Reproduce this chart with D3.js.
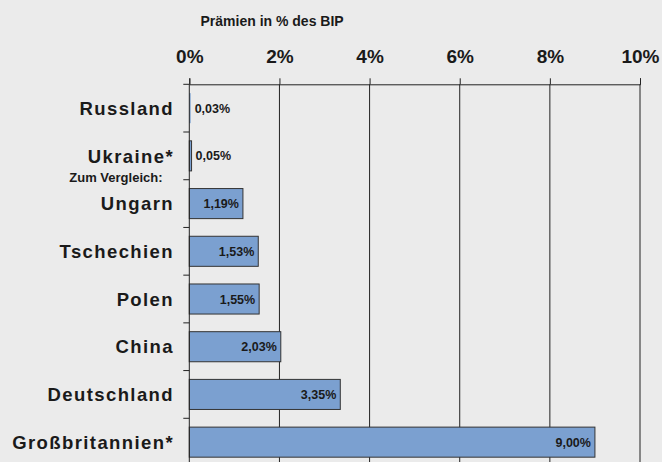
<!DOCTYPE html>
<html lang="de">
<head>
<meta charset="UTF-8">
<title>Prämien in % des BIP</title>
<script src="https://d3js.org/d3.v7.min.js"></script>
<style>
  body { margin: 0; padding: 0; background: #ebebeb; }
  svg { display: block; font-family: 'Liberation Sans', Arial, sans-serif; }
</style>
</head>
<body>
<svg id="chart" width="662" height="462"></svg>
<script>
  // Daten
  const laender = ["Russland", "Ukraine*", "Ungarn", "Tschechien", "Polen", "China", "Deutschland", "Großbritannien*"];
  const praemien = [0.03, 0.05, 1.19, 1.53, 1.55, 2.03, 3.35, 9.00];
  const wertLabels = ["0,03%", "0,05%", "1,19%", "1,53%", "1,55%", "2,03%", "3,35%", "9,00%"];
  const achsenTicks = [0, 2, 4, 6, 8, 10];

  const svg = d3.select("#chart");
  const W = 662, H = 462;

  svg.append("rect").attr("width", W).attr("height", H).attr("fill", "#ebebeb");

  const x = d3.scaleLinear().domain([0, 10]).range([189.3, 640]);
  const y = d3.scaleBand().domain(laender).range([84.3, 466])
    .paddingInner(0.37).paddingOuter(0.185);

  // Titel
  svg.append("text")
    .attr("x", 200.5).attr("y", 26)
    .attr("font-size", "14px").attr("font-weight", "bold")
    .attr("fill", "#1a1a1a")
    .text("Prämien in % des BIP");

  // Gitterlinien
  svg.append("g")
    .selectAll("line")
    .data(achsenTicks.slice(1))
    .join("line")
    .attr("x1", d => x(d)).attr("x2", d => x(d))
    .attr("y1", 84.3).attr("y2", 466)
    .attr("stroke", "#222").attr("stroke-width", 1);

  // Balken (sehr schmale Balken ohne Rand, sonst nur ein dunkler Strich)
  svg.append("g")
    .selectAll("rect")
    .data(praemien)
    .join("rect")
    .attr("x", x(0))
    .attr("y", (d, i) => y(laender[i]))
    .attr("width", d => x(d) - x(0))
    .attr("height", y.bandwidth())
    .attr("fill", "#7ba0d0")
    .attr("stroke", d => x(d) - x(0) < 2 ? "none" : "#333")
    .attr("stroke-width", 1);

  // Werte
  svg.append("g")
    .selectAll("text")
    .data(praemien)
    .join("text")
    .attr("x", d => d < 1 ? x(d) + 4 : x(d) - 4)
    .attr("y", (d, i) => y(laender[i]) + y.bandwidth() / 2)
    .attr("dy", "0.36em")
    .attr("text-anchor", d => d < 1 ? "start" : "end")
    .attr("font-size", "12.5px").attr("font-weight", "bold")
    .attr("fill", "#1a1a1a")
    .text((d, i) => wertLabels[i]);

  // obere Achse
  const achseOben = svg.append("g")
    .attr("transform", `translate(0,84.3)`)
    .call(d3.axisTop(x).tickValues(achsenTicks).tickFormat(d => d + "%")
      .tickSize(6).tickSizeOuter(6).tickPadding(15.6));
  achseOben.selectAll("path, line").attr("stroke", "#222");
  achseOben.selectAll("text")
    .attr("font-size", "19px").attr("font-weight", "bold")
    .attr("font-family", "'Liberation Sans', Arial, sans-serif")
    .attr("fill", "#1a1a1a");

  // linke Achse
  const achseLinks = svg.append("g");
  achseLinks.append("line")
    .attr("x1", x(0)).attr("x2", x(0))
    .attr("y1", 84.3).attr("y2", 466)
    .attr("stroke", "#222");
  achseLinks.selectAll("line.tick")
    .data(laender)
    .join("line")
    .attr("class", "tick")
    .attr("x1", x(0) - 6).attr("x2", x(0))
    .attr("y1", d => y(d) - y.step() * y.paddingInner() / 2)
    .attr("y2", d => y(d) - y.step() * y.paddingInner() / 2)
    .attr("stroke", "#222");

  // Kategorien
  svg.append("g")
    .selectAll("text")
    .data(laender)
    .join("text")
    .attr("x", 174)
    .attr("y", d => y(d) + y.bandwidth() / 2)
    .attr("dy", "0.36em")
    .attr("text-anchor", "end")
    .attr("font-size", "18.5px").attr("font-weight", "bold")
    .attr("letter-spacing", "1.4px")
    .attr("fill", "#1a1a1a")
    .text(d => d);

  svg.append("text")
    .attr("x", 162.5)
    .attr("y", y("Ungarn") - y.step() * y.paddingInner() / 2 + 1.8)
    .attr("text-anchor", "end")
    .attr("font-size", "13px").attr("font-weight", "bold")
    .attr("fill", "#1a1a1a")
    .text("Zum Vergleich:");
</script>
</body>
</html>
